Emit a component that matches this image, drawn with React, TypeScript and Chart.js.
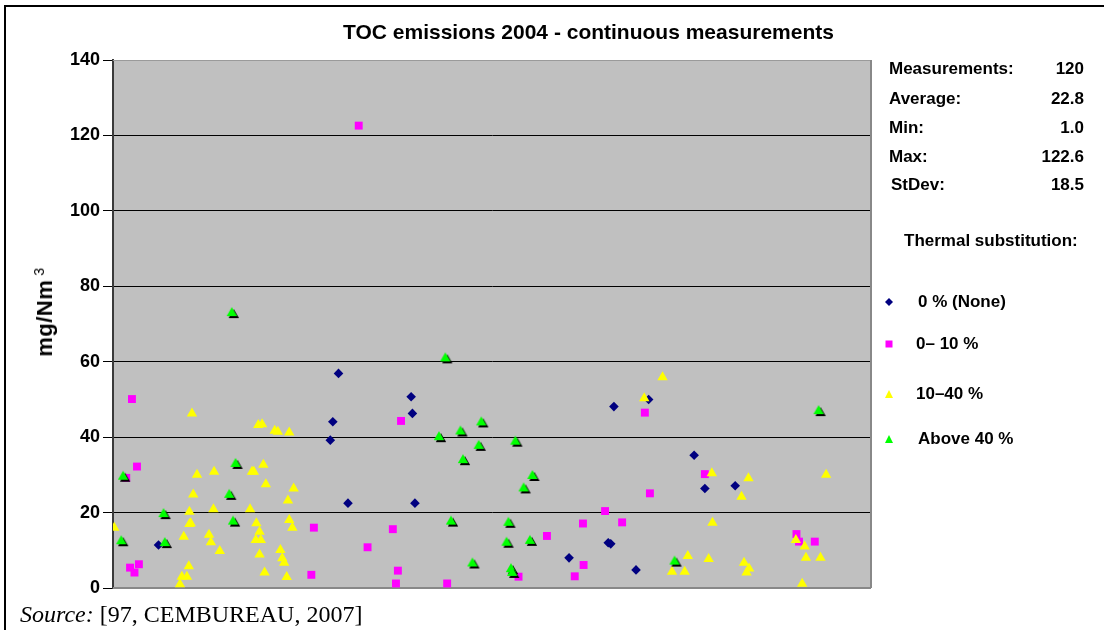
import React, { useEffect, useRef } from "react";
import { Chart, registerables } from "chart.js";

Chart.register(...registerables);

// ---- data (x = position along the measurement axis, y = mg/Nm3) ----
const navyX = [7.2, 35.7, 47.2, 47.4, 34.8, 34.4, 37.2, 47.8, 84.8, 79.3, 92.0, 93.7, 98.5, 78.4, 78.8, 72.2, 82.8];
const navyY = [11.4, 56.9, 50.7, 46.3, 44.1, 39.2, 22.5, 22.5, 50.0, 48.1, 35.2, 26.4, 27.1, 12.0, 11.7, 8.0, 4.8];

const magX = [3.0, 3.8, 2.1, 2.7, 3.4, 4.1, 31.8, 31.4, 38.9, 45.6, 44.3, 40.3, 45.1, 44.8, 52.9, 64.2, 68.7, 84.2, 93.7, 85.0, 77.9, 74.4, 80.6, 108.2, 108.6, 111.1, 74.5, 73.1];
const magY = [50.1, 32.2, 29.2, 5.4, 4.1, 6.3, 16.0, 3.5, 122.6, 44.3, 15.6, 10.8, 4.6, 1.2, 1.2, 3.0, 13.8, 46.5, 30.2, 25.1, 20.4, 17.1, 17.4, 14.3, 12.3, 12.3, 6.1, 3.1];

const yelX = [0.2, 12.5, 23.0, 23.6, 25.6, 26.1, 27.9, 13.3, 16.0, 22.0, 22.3, 23.8, 12.7, 24.2, 28.6, 27.7, 12.1, 15.9, 21.7, 12.1, 12.3, 22.7, 27.9, 28.4, 11.2, 15.2, 15.5, 23.2, 22.6, 23.4, 16.9, 23.2, 26.5, 26.8, 27.1, 12.0, 10.9, 11.7, 10.6, 24.0, 27.5, 87.0, 84.1, 94.8, 100.6, 112.9, 99.5, 94.9, 108.1, 109.5, 91.0, 94.3, 88.5, 90.5, 99.9, 100.7, 100.3, 109.7, 112.0, 109.1];
const yelY = [16.0, 46.3, 43.2, 43.4, 41.7, 41.4, 41.2, 30.0, 30.8, 30.8, 30.8, 32.7, 24.8, 27.5, 26.4, 23.2, 20.2, 20.9, 20.9, 17.0, 17.2, 17.2, 18.0, 16.0, 13.6, 14.1, 12.1, 14.9, 12.7, 12.7, 9.8, 8.9, 10.1, 7.9, 6.7, 5.8, 3.0, 3.0, 1.0, 4.1, 2.9, 55.9, 50.3, 30.4, 29.1, 30.0, 24.2, 17.3, 12.7, 11.0, 8.5, 7.7, 4.3, 4.3, 6.7, 5.2, 4.1, 8.0, 8.0, 1.1];

const grnX = [1.6, 1.3, 8.0, 8.2, 18.8, 19.4, 18.4, 19.0, 52.6, 51.6, 55.0, 58.3, 57.9, 63.7, 55.4, 66.4, 65.0, 53.5, 62.6, 62.3, 66.0, 56.9, 63.0, 63.2, 88.9, 111.7];
const grnY = [29.5, 12.4, 19.6, 11.9, 72.9, 32.9, 24.7, 17.6, 60.9, 40.0, 41.5, 43.9, 37.7, 38.8, 33.9, 29.7, 26.4, 17.6, 17.3, 12.0, 12.5, 6.5, 5.0, 4.0, 7.0, 46.9];

const yTicks = [0, 20, 40, 60, 80, 100, 120, 140];
const seriesLabels = ["0 % (None)", "0\u2013 10 %", "10\u201340 %", "Above 40 %"];
const statLabels = ["Measurements:", "Average:", "Min:", "Max:", "StDev:"];
const statValues = ["120", "22.8", "1.0", "122.6", "18.5"];

const TITLE = "TOC emissions 2004 - continuous measurements";
const Y_TITLE_MAIN = "mg/Nm";
const Y_TITLE_SUP = "3";

const FONT = "'Liberation Sans', Arial, sans-serif";

const zip = (xs: number[], ys: number[]) => xs.map((x, i) => ({ x, y: ys[i] }));

function makeShadowTriangle(): HTMLCanvasElement {
  const c = document.createElement("canvas");
  c.width = 20;
  c.height = 20;
  const g = c.getContext("2d")!;
  const tri = (dx: number, dy: number, color: string) => {
    g.beginPath();
    g.moveTo(10 + dx, 4 + dy);
    g.lineTo(15.2 + dx, 13 + dy);
    g.lineTo(4.8 + dx, 13 + dy);
    g.closePath();
    g.fillStyle = color;
    g.fill();
  };
  tri(2, 2, "#000000");
  tri(0, 0, "#00FF00");
  return c;
}

const plotPlugin = {
  id: "plotDecor",
  beforeDraw(chart: any) {
    const { ctx, chartArea: a } = chart;
    ctx.save();
    ctx.fillStyle = "#C0C0C0";
    ctx.fillRect(a.left, a.top, a.right - a.left, a.bottom - a.top);
    ctx.restore();
  },
  beforeDatasetsDraw(chart: any) {
    const { ctx, chartArea: a } = chart;
    ctx.save();
    ctx.strokeStyle = "#9a9a9a";
    ctx.lineWidth = 1;
    ctx.beginPath();
    ctx.moveTo(a.left, a.top + 0.5);
    ctx.lineTo(a.right, a.top + 0.5);
    ctx.stroke();
    ctx.strokeStyle = "#888888";
    ctx.lineWidth = 2;
    ctx.beginPath();
    ctx.moveTo(a.right, a.top);
    ctx.lineTo(a.right, a.bottom);
    ctx.moveTo(a.left, a.bottom);
    ctx.lineTo(a.right, a.bottom);
    ctx.stroke();
    ctx.restore();
  },
};

function Marker({ kind }: { kind: number }) {
  if (kind === 0)
    return (
      <svg width="10" height="10" style={{ display: "block" }}>
        <polygon points="5,1 9,5 5,9 1,5" fill="#000080" />
      </svg>
    );
  if (kind === 1)
    return (
      <svg width="10" height="10" style={{ display: "block" }}>
        <rect x="1.5" y="1.5" width="7" height="7" fill="#FF00FF" />
      </svg>
    );
  return (
    <svg width="10" height="10" style={{ display: "block" }}>
      <polygon points="5,1 9,9 1,9" fill={kind === 2 ? "#FFFF00" : "#00FF00"} />
    </svg>
  );
}

export default function App() {
  const ref = useRef<HTMLCanvasElement | null>(null);

  useEffect(() => {
    if (!ref.current) return;
    const shadowTri = makeShadowTriangle();
    const chart = new Chart(ref.current, {
      type: "scatter",
      data: {
        datasets: [
          {
            label: seriesLabels[0],
            data: zip(navyX, navyY),
            pointStyle: "rectRot",
            pointRadius: 4.8,
            backgroundColor: "#000080",
            borderWidth: 0,
            order: 4,
          },
          {
            label: seriesLabels[1],
            data: zip(magX, magY),
            pointStyle: "rect",
            pointRadius: 5.6,
            backgroundColor: "#FF00FF",
            borderWidth: 0,
            order: 3,
          },
          {
            label: seriesLabels[2],
            data: zip(yelX, yelY),
            pointStyle: "triangle",
            pointRadius: 6,
            backgroundColor: "#FFFF00",
            borderWidth: 0,
            order: 2,
          },
          {
            label: seriesLabels[3],
            data: zip(grnX, grnY),
            pointStyle: shadowTri as any,
            pointRadius: 6,
            backgroundColor: "#00FF00",
            borderWidth: 0,
            order: 1,
          },
        ],
      },
      options: {
        animation: false,
        responsive: false,
        events: [],
        layout: { padding: { top: 60, bottom: 42, left: 0, right: 233 } },
        plugins: {
          legend: { display: false },
          tooltip: { enabled: false },
          title: { display: false },
        },
        scales: {
          x: {
            type: "linear",
            min: 0,
            max: 120,
            display: false,
          },
          y: {
            type: "linear",
            min: 0,
            max: 140,
            afterFit(scale: any) {
              scale.width = 113;
            },
            afterBuildTicks(scale: any) {
              scale.ticks = yTicks.map((v) => ({ value: v }));
            },
            ticks: {
              color: "#000",
              padding: 3,
              font: { family: FONT, size: 18, weight: "bold" },
            },
            grid: {
              color: (c: any) =>
                c.tick && (c.tick.value === 0 || c.tick.value === 140) ? "rgba(0,0,0,0)" : "#000000",
              lineWidth: 1,
              tickLength: 10,
              tickColor: "#000000",
              drawTicks: true,
            },
            border: { display: true, color: "#3a3a3a", width: 2 },
            title: { display: false },
          },
        },
      },
      plugins: [plotPlugin],
    } as any);
    return () => chart.destroy();
  }, []);

  const txt: React.CSSProperties = {
    position: "absolute",
    fontFamily: FONT,
    fontWeight: "bold",
    fontSize: 17,
    lineHeight: "20px",
    color: "#000",
    whiteSpace: "nowrap",
  };
  const statY = [59, 89, 118, 147, 175];
  const legendY = [302, 344, 394, 439];
  const legendX = [918, 916, 916, 918];

  return (
    <div style={{ position: "relative", width: 1104, height: 630, background: "#fff", overflow: "hidden" }}>
      <style>{`body{margin:0}`}</style>
      <canvas ref={ref} width={1104} height={630} style={{ position: "absolute", left: 0, top: 0, width: 1104, height: 630 }} />
      {/* outer frame */}
      <div style={{ position: "absolute", left: 4, top: 5, width: 1100, height: 2, background: "#000" }} />
      <div style={{ position: "absolute", left: 4, top: 5, width: 2, height: 625, background: "#000" }} />
      {/* title */}
      <div style={{ ...txt, left: 343, top: 20, fontSize: 21, lineHeight: "24px" }}>{TITLE}</div>
      {/* y axis title */}
      <div
        style={{
          ...txt,
          left: 42,
          top: 312,
          fontSize: 22,
          lineHeight: "24px",
          transform: "translate(-50%, -50%) rotate(-90deg)",
          letterSpacing: 0.5,
        }}
      >
        {Y_TITLE_MAIN}
        <span style={{ fontSize: 14, fontWeight: "normal", verticalAlign: "8px", marginLeft: 4 }}>{Y_TITLE_SUP}</span>
      </div>
      {/* stats */}
      {statLabels.map((l, i) => (
        <div key={l} style={{ ...txt, left: i === 4 ? 891 : 889, top: statY[i] }}>
          {l}
        </div>
      ))}
      {statValues.map((v, i) => (
        <div key={"v" + i} style={{ ...txt, right: 1104 - 1084, top: statY[i], textAlign: "right" }}>
          {v}
        </div>
      ))}
      <div style={{ ...txt, left: 904, top: 231 }}>Thermal substitution:</div>
      {/* legend */}
      {seriesLabels.map((l, i) => (
        <React.Fragment key={l}>
          <div style={{ position: "absolute", left: 884, top: legendY[i] - 5 }}>
            <Marker kind={i} />
          </div>
          <div style={{ ...txt, left: legendX[i], top: legendY[i] - 10 }}>{l}</div>
        </React.Fragment>
      ))}
      {/* source */}
      <div
        style={{
          position: "absolute",
          left: 20,
          top: 600,
          fontFamily: "'Liberation Serif', 'Times New Roman', serif",
          fontSize: 24,
          lineHeight: "28px",
          color: "#000",
          whiteSpace: "nowrap",
        }}
      >
        <i>Source:</i> [97, CEMBUREAU, 2007]
      </div>
    </div>
  );
}
